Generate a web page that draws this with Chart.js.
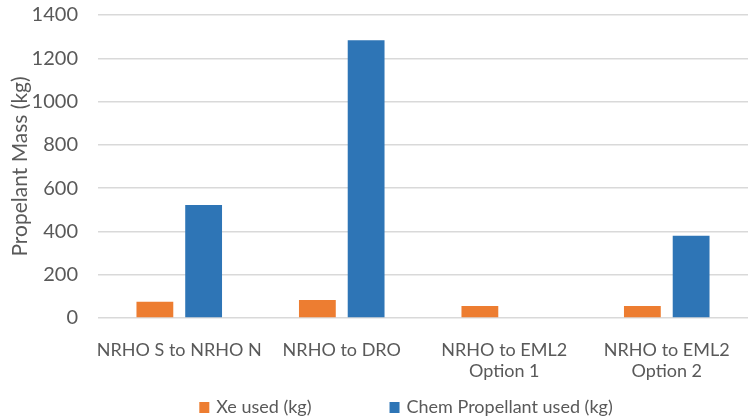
<!DOCTYPE html>
<html>
<head>
<meta charset="utf-8">
<script src="https://cdn.jsdelivr.net/npm/chart.js@4"></script>
<style>
  html, body { margin: 0; padding: 0; background: #ffffff; }
  #wrap { width: 748px; height: 420px; position: relative; }
</style>
</head>
<body>
<div id="wrap"><canvas id="chart" width="748" height="420"></canvas></div>
<script>
// Transfer cases
const categories = [
  'NRHO S to NRHO N',
  'NRHO to DRO',
  ['NRHO to EML2', 'Option 1'],
  ['NRHO to EML2', 'Option 2'],
]

// Propellant used per case (kg)
const xeUsed = [75, 83, 55, 55]
const chemUsed = [522, 1283, 0, 380]

const seriesLabels = ['Xe used (kg)', 'Chem Propellant used (kg)']
const seriesColors = ['#ed7d31', '#2e75b6']

const FONT = 'Lato, "Liberation Sans", sans-serif'
const TEXT = '#595959'

// Bottom legend drawn by hand so the wide gap between items matches
const bottomLegend = {
  id: 'bottomLegend',
  afterDraw(chart) {
    const ctx = chart.ctx
    ctx.save()
    ctx.font = '18px ' + FONT
    ctx.textBaseline = 'middle'
    const box = 10, gap = 7, spacing = 78
    const widths = chart.data.datasets.map(ds => box + gap + ctx.measureText(ds.label).width)
    const total = widths.reduce((a, b) => a + b, 0) + spacing * (widths.length - 1)
    // legend sits slightly right of the canvas centre, as in the original
    const { left, right } = chart.chartArea
    let x = (left + right - total) / 2 - 17
    const y = 407
    chart.data.datasets.forEach((ds, i) => {
      ctx.fillStyle = ds.backgroundColor
      ctx.fillRect(x, y - box / 2, box, box + 1)
      ctx.fillStyle = TEXT
      ctx.fillText(ds.label, x + box + gap, y)
      x += widths[i] + spacing
    })
    ctx.restore()
  },
}

new Chart(document.getElementById('chart'), {
  type: 'bar',
  data: {
    labels: categories,
    datasets: [
      { label: seriesLabels[0], data: xeUsed, backgroundColor: seriesColors[0] },
      { label: seriesLabels[1], data: chemUsed, backgroundColor: seriesColors[1] },
    ],
  },
  options: {
    responsive: false,
    animation: false,
    devicePixelRatio: 1,
    categoryPercentage: 0.6,
    barPercentage: 0.755,
    layout: { padding: { top: 15, right: 0, bottom: 0, left: 8 } },
    plugins: {
      legend: { display: false },
      tooltip: { enabled: false },
    },
    scales: {
      x: {
        grid: { display: false },
        border: { display: false },
        ticks: {
          color: TEXT,
          font: { family: FONT, size: 18, lineHeight: 1.15 },
          padding: 14,
          maxRotation: 0,
          autoSkip: false,
        },
        afterFit(scale) {
          scale.height = 102
          scale.paddingLeft = 0
          scale.paddingRight = 0
        },
      },
      y: {
        min: 0,
        max: 1400,
        ticks: {
          stepSize: 200,
          color: TEXT,
          font: { family: FONT, size: 20, lineHeight: 1 },
          padding: 20,
          callback: v => String(v),
        },
        grid: { color: '#d9d9d9', lineWidth: 1.5, drawTicks: false },
        border: { display: false },
        title: {
          display: true,
          text: 'Propelant Mass (kg)',
          color: TEXT,
          font: { family: FONT, size: 21 },
          padding: { top: 0, bottom: 4 },
        },
        afterFit(scale) {
          scale.width = 90
          scale.paddingTop = 0
          scale.paddingBottom = 0
        },
      },
    },
  },
  plugins: [bottomLegend],
})
</script>
</body>
</html>
